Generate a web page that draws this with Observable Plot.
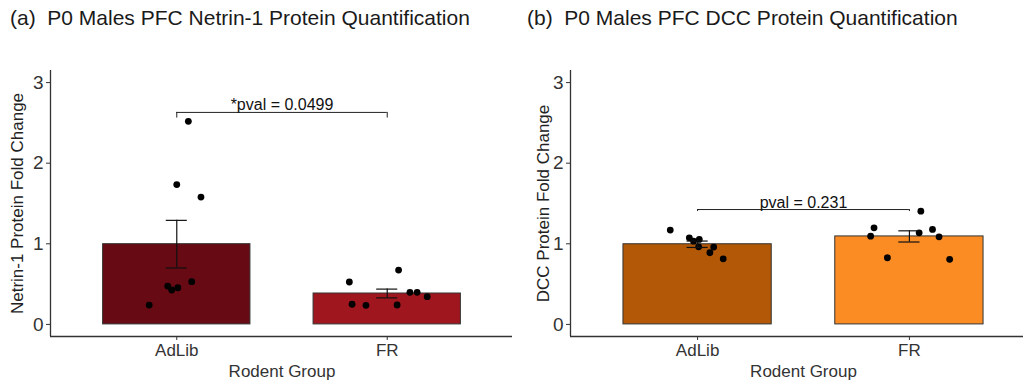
<!DOCTYPE html>
<html><head><meta charset="utf-8">
<script src="https://cdn.jsdelivr.net/npm/d3@7"></script>
<script src="https://cdn.jsdelivr.net/npm/@observablehq/plot@0.6"></script>
<style>
html,body{margin:0;padding:0;background:#fff;overflow:hidden;width:1023px;height:383px}
.panel{position:absolute;top:0;overflow:visible}
.title{font-family:"Liberation Sans",Arial,sans-serif;font-size:21px;color:#1a1a1a;height:40px;line-height:36px;white-space:pre}
</style></head><body>
<div id="a" class="panel" style="left:0;width:513px"></div>
<div id="b" class="panel" style="left:512px;width:524px"></div>
<script>
const groups = ["AdLib", "FR"];
const xTickLabels = groups;
const yTicks = [0, 1, 2, 3];

// Panel (a): Netrin-1
const netrinAdLib = [2.52, 1.735, 1.58, 0.53, 0.476, 0.427, 0.455, 0.24];
const netrinAdLibJitter = [0.055, 0.0, 0.115, 0.071, -0.043, -0.024, 0.005, -0.131];
const netrinFR = [0.674, 0.526, 0.398, 0.398, 0.344, 0.25, 0.237, 0.241];
const netrinFRJitter = [0.054, -0.18, 0.108, 0.142, 0.19, -0.167, -0.101, 0.047];
const netrinBracket = {y: 2.63, tip: 0.07, label: "*pval = 0.0499"};

// Panel (b): DCC
const dccAdLib = [1.17, 1.074, 1.033, 1.054, 0.963, 0.959, 0.889, 0.814];
const dccAdLibJitter = [-0.129, -0.039, -0.019, 0.008, 0.005, 0.076, 0.058, 0.121];
const dccFR = [1.405, 1.198, 1.178, 1.136, 1.095, 1.087, 0.827, 0.807];
const dccFRJitter = [0.054, -0.167, 0.109, 0.046, -0.183, 0.14, -0.104, 0.19];
const dccBracket = {y: 1.425, tip: 0.025, label: "pval = 0.231"};

const colorsA = ["#670a14", "#a0161e"];
const colorsB = ["#b35806", "#fb8c24"];

const FONT = "Liberation Sans, Arial, Helvetica, sans-serif";

function panel({id, title, titlePad, vals, jit, colors, ylabel, bracket, width, marginLeft, yLabelOffset}) {
  const pts = [];
  groups.forEach((g, i) => vals[i].forEach((v, k) => pts.push({x: i + 1 + jit[i][k], y: v})));
  const stats = groups.map((g, i) => {
    const m = d3.mean(vals[i]);
    const se = d3.deviation(vals[i]) / Math.sqrt(vals[i].length);
    return {gi: i + 1, mean: m, lo: m - se, hi: m + se, color: colors[i]};
  });
  const whisk = stats.flatMap(s => [{gi: s.gi, y: s.lo}, {gi: s.gi, y: s.hi}]);
  const tips = [{x: 1}, {x: 2}];
  const el = document.getElementById(id);
  const t = document.createElement("div");
  t.className = "title";
  t.style.paddingLeft = titlePad + "px";
  t.textContent = title;
  el.appendChild(t);
  const chart = Plot.plot({
    width, height: 343, marginLeft, marginRight: 0, marginTop: 30, marginBottom: 47,
    x: {domain: [0.4, 2.6]},
    y: {domain: [-0.15, 3.15]},
    color: {type: "identity"},
    style: {fontFamily: FONT, fontSize: "17px", color: "#222", background: "#fff", maxWidth: "none"},
    marks: [
      Plot.rectY(stats, {x1: d => d.gi - 0.35, x2: d => d.gi + 0.35, y1: 0, y2: "mean", fill: d => d.color, stroke: "#333", strokeWidth: 1}),
      Plot.dot(pts, {x: "x", y: "y", r: 3.4, fill: "#000", stroke: null}),
      Plot.ruleX(stats, {x: "gi", y1: "lo", y2: "hi", stroke: "#111", strokeWidth: 1.2}),
      Plot.ruleY(whisk, {x1: d => d.gi - 0.05, x2: d => d.gi + 0.05, y: "y", stroke: "#111", strokeWidth: 1.2}),
      Plot.ruleY([bracket], {x1: 1, x2: 2, y: "y", stroke: "#222", strokeWidth: 1}),
      Plot.ruleX(tips, {x: "x", y1: bracket.y - bracket.tip, y2: bracket.y, stroke: "#222", strokeWidth: 1}),
      Plot.text([bracket], {x: 1.5, y: "y", text: "label", lineAnchor: "bottom", dy: -2, fontSize: 16, fill: "#111"}),
      Plot.ruleX([0.4], {stroke: "#333", strokeWidth: 1.3}),
      Plot.ruleY([-0.15], {stroke: "#333", strokeWidth: 1.3}),
      Plot.axisY({ticks: yTicks, tickFormat: d3.format("d"), tickSize: 4, tickPadding: 3, fontSize: 19, stroke: "#333", fill: "#333"}),
      Plot.axisY({ticks: [], tickSize: 0, fontSize: 17, fill: "#222",
        label: ylabel, labelAnchor: "center", labelArrow: "none", labelOffset: yLabelOffset}),
      Plot.axisX({ticks: [1, 2], tickFormat: i => xTickLabels[i - 1], tickSize: 4, tickPadding: 3, fontSize: 17, stroke: "#333", fill: "#333",
        label: "Rodent Group", labelAnchor: "center", labelArrow: "none", labelOffset: 40})
    ]
  });
  el.appendChild(chart);
}

panel({id: "a", title: "(a)  P0 Males PFC Netrin-1 Protein Quantification", titlePad: 10,
  vals: [netrinAdLib, netrinFR], jit: [netrinAdLibJitter, netrinFRJitter], colors: colorsA,
  ylabel: "Netrin-1 Protein Fold Change", bracket: netrinBracket, width: 513, marginLeft: 50, yLabelOffset: 40});
panel({id: "b", title: "(b)  P0 Males PFC DCC Protein Quantification", titlePad: 15,
  vals: [dccAdLib, dccFR], jit: [dccAdLibJitter, dccFRJitter], colors: colorsB,
  ylabel: "DCC Protein Fold Change", bracket: dccBracket, width: 524, marginLeft: 58, yLabelOffset: 34});
</script>
</body></html>
